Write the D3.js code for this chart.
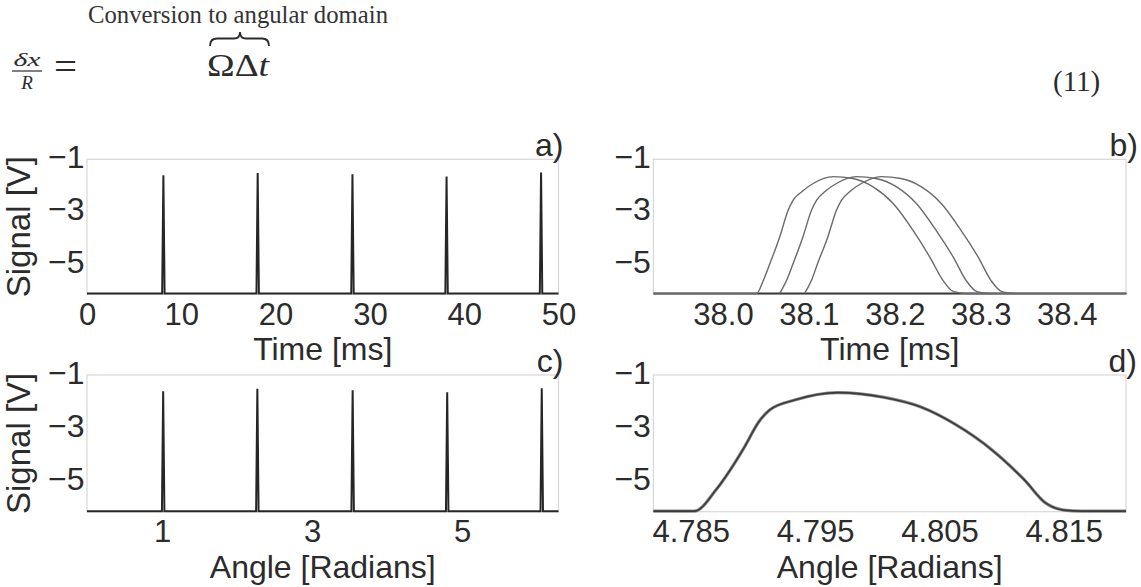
<!DOCTYPE html>
<html>
<head>
<meta charset="utf-8">
<script src="https://cdn.jsdelivr.net/npm/d3@7"></script>
<style>
  body { margin: 0; background: #fff; }
  svg { display: block; }
  .tick text { font-family: "Liberation Sans", Arial, sans-serif; }
</style>
</head>
<body>
<svg id="fig" width="1141" height="587"></svg>
<script>
// ---- tick values ----
const timeTicks = [0, 10, 20, 30, 40, 50];
const zoomTimeTicks = [38.0, 38.1, 38.2, 38.3, 38.4];
const angleTicks = [1, 3, 5];
const zoomAngleTicks = [4.785, 4.795, 4.805, 4.815];
const signalTicks = [-1, -3, -5];

// ---- pulse train: one pulse per revolution ----
const pulseTimes  = [8.1, 18.1, 28.15, 38.13, 48.15];    // ms
const pulseAngles = [1.015, 2.27, 3.54, 4.80, 6.06];     // rad
const pulsePeaks  = [-1.61, -1.52, -1.57, -1.65, -1.50]; // V
const baseLevel = -6.1;

// ---- close-up of the pulse near 38 ms, three revolutions overlaid ----
const pulseRev1 = [
  [37.92, -6.1], [38.039, -6.1], [38.047, -5.6], [38.0545, -4.97], [38.066, -3.95],
  [38.0758, -2.94], [38.0816, -2.55], [38.0914, -2.24], [38.1049, -1.92], [38.128, -1.66],
  [38.1514, -1.73], [38.1747, -2.05], [38.198, -2.68], [38.2212, -3.70], [38.2407, -4.72],
  [38.2562, -5.61], [38.2678, -6.02], [38.283, -6.1], [38.47, -6.1]
];
const pulseRev2 = [
  [38.066, -6.1], [38.074, -5.6], [38.0815, -4.97], [38.093, -3.95], [38.103, -2.94],
  [38.109, -2.55], [38.118, -2.24], [38.132, -1.92], [38.155, -1.66], [38.178, -1.73],
  [38.202, -2.05], [38.225, -2.68], [38.248, -3.70], [38.268, -4.72], [38.283, -5.61],
  [38.295, -6.02], [38.31, -6.1]
];
const pulseRev3 = [
  [38.095, -6.1], [38.103, -5.6], [38.11, -4.97], [38.122, -3.95], [38.132, -2.94],
  [38.138, -2.55], [38.147, -2.24], [38.161, -1.92], [38.184, -1.66], [38.207, -1.73],
  [38.231, -2.05], [38.254, -2.68], [38.277, -3.70], [38.297, -4.72], [38.312, -5.61],
  [38.324, -6.02], [38.339, -6.1]
];

// ---- same pulse in the angular domain (revolutions coincide) ----
const pulseAngular = [
  [4.782, -6.1], [4.78529, -6.1], [4.78702, -5.31], [4.78817, -4.56], [4.78933, -3.69],
  [4.79048, -2.75], [4.79135, -2.31], [4.79336, -1.94], [4.79683, -1.66], [4.80058, -1.84],
  [4.80346, -2.19], [4.80635, -2.87], [4.80923, -3.81], [4.81183, -4.93], [4.81358, -5.81],
  [4.8150, -6.06], [4.81644, -6.1], [4.820, -6.1]
];

const svg = d3.select("#fig");
const FONT = "'Liberation Sans', Arial, Helvetica, sans-serif";
const SERIF = "'Liberation Serif', 'DejaVu Serif', 'Times New Roman', serif";
const INK = "#2b2b2b";

// ---------- equation header ----------
const eq = svg.append("g").attr("fill", INK);
eq.append("text").attr("x", 88).attr("y", 23)
  .attr("font-family", SERIF).attr("font-size", 25)
  .attr("textLength", 300).attr("lengthAdjust", "spacingAndGlyphs")
  .attr("fill", "#333")
  .text("Conversion to angular domain");
eq.append("text").attr("x", 27).attr("y", 65.5).attr("text-anchor", "middle")
  .attr("font-family", SERIF).attr("font-style", "italic").attr("font-size", 19)
  .attr("textLength", 27).attr("lengthAdjust", "spacingAndGlyphs")
  .text("δx");
eq.append("line").attr("x1", 12).attr("x2", 42).attr("y1", 71).attr("y2", 71)
  .attr("stroke", INK).attr("stroke-width", 1.2);
eq.append("text").attr("x", 27).attr("y", 88.5).attr("text-anchor", "middle")
  .attr("font-family", SERIF).attr("font-style", "italic").attr("font-size", 19)
  .text("R");
eq.append("text").attr("x", 54).attr("y", 79)
  .attr("font-family", SERIF).attr("font-size", 38)
  .attr("textLength", 23).attr("lengthAdjust", "spacingAndGlyphs")
  .text("=");
const omega = eq.append("text").attr("x", 207).attr("y", 76)
  .attr("font-family", SERIF).attr("font-size", 31)
  .attr("textLength", 62).attr("lengthAdjust", "spacingAndGlyphs");
omega.append("tspan").text("ΩΔ");
omega.append("tspan").attr("font-style", "italic").text("t");
eq.append("path")
  .attr("d", "M210,46 Q210,38.5 217,38.5 L234,38.5 Q240,38.5 240,32 Q240,38.5 246,38.5 L262,38.5 Q269,38.5 269,46")
  .attr("fill", "none").attr("stroke", INK).attr("stroke-width", 1.8);
eq.append("text").attr("x", 1053).attr("y", 91)
  .attr("font-family", SERIF).attr("font-size", 29)
  .text("(11)");

// ---------- panels ----------
const signalDomain = [-6.12, -1];

function panel(opts) {
  const { left, right, top, bottom, xDomain, ticks, fmt, xTitle, tag, tagDx, yTitle } = opts;
  const x = d3.scaleLinear().domain(xDomain).range([left, right]);
  const y = d3.scaleLinear().domain(signalDomain).range([bottom, top]);
  const g = svg.append("g");

  // light frame
  g.append("rect").attr("x", left).attr("y", top)
    .attr("width", right - left).attr("height", bottom - top)
    .attr("fill", "none").attr("stroke", "#d8d8d8").attr("stroke-width", 1.2);

  // x axis labels
  const xa = g.append("g").attr("transform", `translate(0,${bottom})`)
    .call(d3.axisBottom(x).tickValues(ticks).tickSize(0).tickPadding(0).tickFormat(fmt));
  xa.select(".domain").remove();
  xa.selectAll("text").attr("y", 30.5).attr("dy", null)
    .attr("font-size", 31).attr("font-family", FONT).attr("fill", INK);

  // y axis labels
  const ya = g.append("g").attr("transform", `translate(${left},0)`)
    .call(d3.axisLeft(y).tickValues(signalTicks).tickSize(0).tickPadding(0)
      .tickFormat(d => "\u2212" + Math.abs(d)));
  ya.select(".domain").remove();
  ya.selectAll("text").attr("x", -2.5).attr("dy", null).attr("y", 8)
    .attr("font-size", 32).attr("font-family", FONT).attr("fill", INK);

  // titles
  g.append("text").attr("x", (left + right) / 2).attr("y", bottom + 66)
    .attr("text-anchor", "middle").attr("font-family", FONT).attr("font-size", 32)
    .attr("fill", INK).text(xTitle);
  if (yTitle) {
    g.append("text")
      .attr("transform", `translate(30,${(top + bottom) / 2}) rotate(-90)`)
      .attr("text-anchor", "middle").attr("font-family", FONT).attr("font-size", 33)
      .attr("fill", INK).text(yTitle);
  }
  g.append("text").attr("x", right + tagDx).attr("y", top - 3)
    .attr("text-anchor", "end").attr("font-family", FONT).attr("font-size", 32)
    .attr("fill", INK).text(tag);
  return { g, x, y };
}

// pulse train: baseline with a narrow spike at each pulse
function trainPoints(positions, peaks, halfWidth, domain) {
  const pts = [[domain[0], baseLevel]];
  positions.forEach((p, i) => {
    pts.push([p - halfWidth, baseLevel], [p, peaks[i]], [p + halfWidth, baseLevel]);
  });
  pts.push([domain[1], baseLevel]);
  return pts;
}

function drawTrain(P, positions, halfWidth, domain) {
  const line = d3.line().x(d => P.x(d[0])).y(d => P.y(d[1]));
  P.g.append("path")
    .datum(trainPoints(positions, pulsePeaks, halfWidth, domain))
    .attr("d", line).attr("fill", "none")
    .attr("stroke", "#262626").attr("stroke-width", 2)
    .attr("stroke-linejoin", "miter");
}

// a) time domain
const timeDomain = [0, 50];
const A = panel({ left: 87, right: 558.5, top: 159.3, bottom: 294,
  xDomain: timeDomain, ticks: timeTicks, fmt: d3.format("d"),
  xTitle: "Time [ms]", tag: "a)", tagDx: 5, yTitle: "Signal [V]" });
drawTrain(A, pulseTimes, 0.13, timeDomain);

// b) close-up in time
const zoomTimeDomain = [37.919, 38.469];
const B = panel({ left: 653.4, right: 1126, top: 159.3, bottom: 294,
  xDomain: zoomTimeDomain, ticks: zoomTimeTicks, fmt: d3.format(".1f"),
  xTitle: "Time [ms]", tag: "b)", tagDx: 12 });
B.g.append("line")
  .attr("x1", B.x(zoomTimeDomain[0])).attr("x2", B.x(zoomTimeDomain[1]))
  .attr("y1", B.y(baseLevel)).attr("y2", B.y(baseLevel))
  .attr("stroke", "#3a3a3a").attr("stroke-width", 2);
const bLine = d3.line().x(d => B.x(d[0])).y(d => B.y(d[1])).curve(d3.curveMonotoneX);
[pulseRev1, pulseRev2, pulseRev3].forEach(s => {
  B.g.append("path").datum(s).attr("d", bLine).attr("fill", "none")
    .attr("stroke", "#6a6a6a").attr("stroke-width", 1.4);
});

// c) angular domain
const angleDomain = [0, 2 * Math.PI];
const C = panel({ left: 87, right: 558.5, top: 375, bottom: 511.7,
  xDomain: angleDomain, ticks: angleTicks, fmt: d3.format("d"),
  xTitle: "Angle [Radians]", tag: "c)", tagDx: 5, yTitle: "Signal [V]" });
drawTrain(C, pulseAngles, 0.0165, angleDomain);

// d) close-up in angle
const zoomAngleDomain = [4.782, 4.820];
const D = panel({ left: 653.4, right: 1126, top: 375, bottom: 511.7,
  xDomain: zoomAngleDomain, ticks: zoomAngleTicks, fmt: d3.format(".3f"),
  xTitle: "Angle [Radians]", tag: "d)", tagDx: 11 });
const dLine = d3.line().x(d => D.x(d[0])).y(d => D.y(d[1])).curve(d3.curveMonotoneX);
D.g.append("path").datum(pulseAngular).attr("d", dLine).attr("fill", "none")
  .attr("stroke", "#8a8a8a").attr("stroke-width", 3.2);
D.g.append("path").datum(pulseAngular).attr("d", dLine).attr("fill", "none")
  .attr("stroke", "#3a3a3a").attr("stroke-width", 1.6);
</script>
</body>
</html>
